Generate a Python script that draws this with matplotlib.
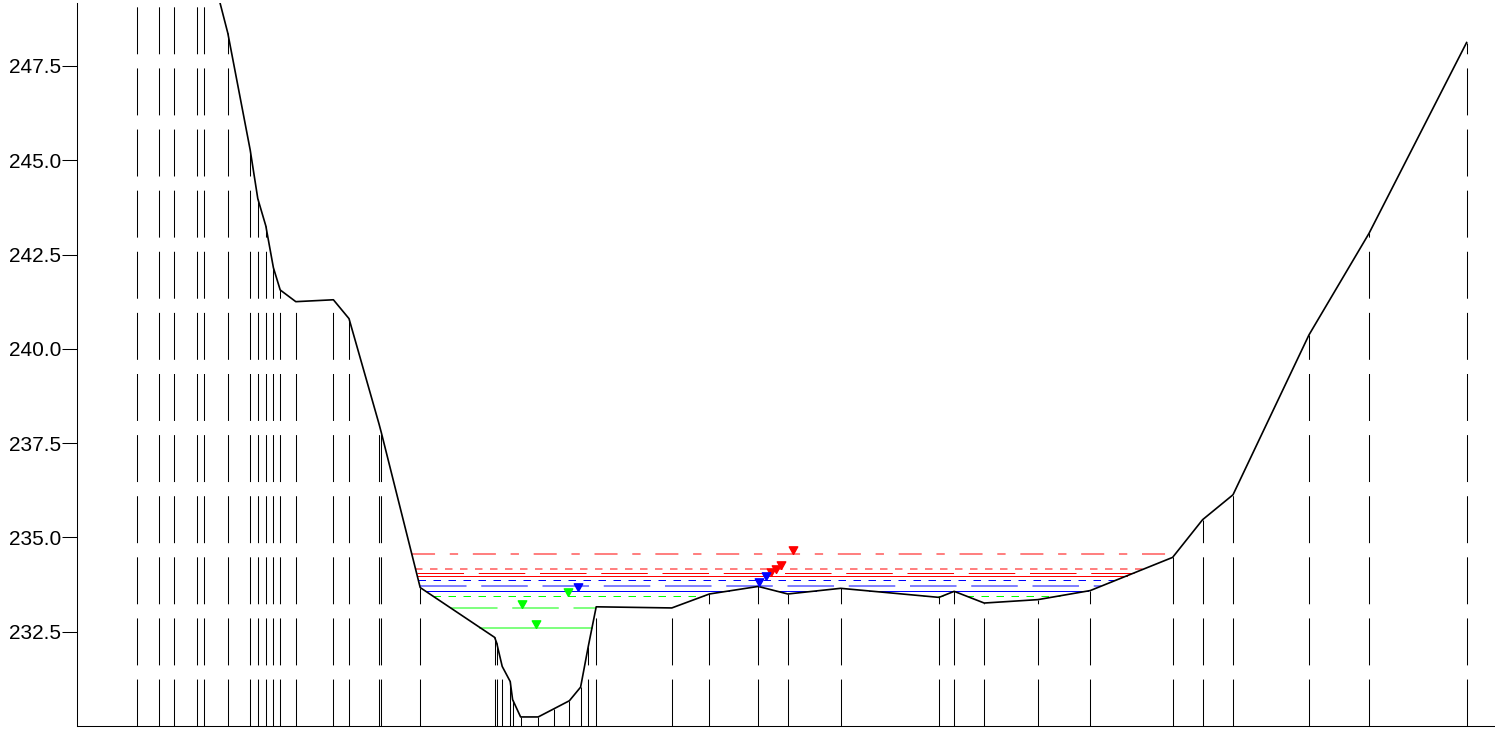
import numpy as np
import matplotlib
matplotlib.use("Agg")
import matplotlib.pyplot as plt
from matplotlib.ticker import FormatStrFormatter

plt.rcParams['font.family'] = ['Liberation Sans', 'DejaVu Sans']
plt.rcParams['lines.scale_dashes'] = False

# ground profile: station (m) and elevation (m)
stations = [15.1, 20.6, 24.3, 29.9, 31.8, 37.7, 43.3, 45.2, 47.2, 49.1,
            50.8, 54.7, 64.1, 68.0, 75.5, 76.1, 85.8, 104.4, 104.9, 106.3,
            108.3, 108.9, 110.9, 115.3, 119.3, 123.1, 125.9, 127.8, 129.8, 148.7,
            158.1, 170.3, 177.7, 190.9, 215.5, 219.3, 226.8, 240.2, 253.3, 273.9,
            281.4, 289.0, 308.0, 323.0, 347.4]
ground = [256.0, 254.5, 253.5, 251.8, 250.8, 248.37, 245.27, 243.98, 243.26, 242.15,
          241.56, 241.25, 241.30, 240.80, 238.01, 237.77, 233.67, 232.35, 232.21, 231.58,
          231.18, 230.70, 230.24, 230.24, 230.46, 230.67, 231.03, 232.10, 233.16, 233.13,
          233.50, 233.70, 233.50, 233.65, 233.41, 233.57, 233.26, 233.35, 233.59, 234.47,
          235.47, 236.13, 240.37, 243.06, 248.12]

# water surface levels and where their marker sits
levels = [234.55, 234.17, 234.06, 233.98, 233.87, 233.71, 233.58, 233.45, 233.12, 232.61]
marker_x = [179.1, 175.9, 174.8, 173.6, 172.2, 170.6, 125.2, 122.8, 111.3, 114.7]

y_ticks = [232.5, 235.0, 237.5, 240.0, 242.5, 245.0, 247.5]
y_min, y_max = 230.0, 249.16

# styles for each water level line (thin = full colour, thick = light colour)
long_dash = (0, (33.5, 10.6))
short_dash = (0, (5.4, 5.4))
dash_dot = (0, (16.6, 10.6, 6.0, 10.6))
line_styles = [dash_dot, short_dash, long_dash, '-', short_dash,
               long_dash, '-', short_dash, long_dash, '-']
line_colors = ['#ff8080', '#ff8080', '#ff0000', '#ff0000', '#0000ff',
               '#8080ff', '#0000ff', '#00ff00', '#80ff80', '#80ff80']
marker_colors = ['#ff0000'] * 4 + ['#0000ff'] * 3 + ['#00ff00'] * 3
line_widths = [1.44, 1.44, 0.72, 0.72, 0.72, 1.44, 0.72, 0.72, 1.44, 1.44]


def wet_parts(xs, zs, level):
    """x ranges where the ground lies below the water level"""
    parts = []
    start = None
    for i in range(len(xs) - 1):
        x0, x1, z0, z1 = xs[i], xs[i + 1], zs[i], zs[i + 1]
        if z0 < level and start is None:
            start = x0
        if (z0 < level) != (z1 < level):
            xc = x0 + (level - z0) / (z1 - z0) * (x1 - x0)
            if start is None:
                start = xc
            else:
                parts.append((start, xc))
                start = None
    if start is not None:
        parts.append((start, xs[-1]))
    return parts


# triangle marker with its tip at the origin
tri = [(0, 0), (-1, 1.8), (1, 1.8), (0, 0)]

fig = plt.figure(figsize=(14.95, 7.31), dpi=100)
ax = fig.add_axes([77 / 1495, 5 / 731, 1418 / 1495, 722.7 / 731])

ax.vlines(stations, y_min, ground, colors='k', linewidth=0.75,
          linestyles=[(0, (33.8, 10.2))], zorder=1)

for lev, mx, ls, c, mc, lw in zip(levels, marker_x, line_styles, line_colors,
                                   marker_colors, line_widths):
    xs, ys = [], []
    for a, b in wet_parts(stations, ground, lev):
        xs += [a, b, np.nan]
        ys += [lev, lev, np.nan]
    ax.plot(xs, ys, color=c, linestyle=ls, linewidth=lw, zorder=2)
    ax.plot([mx], [lev], marker=tri, markersize=11, color=mc,
            linestyle='none', zorder=4)

ax.plot(stations, ground, color='k', linewidth=1.2, zorder=3)

ax.set_xlim(0, 354.5)
ax.set_ylim(y_min, y_max)
ax.set_yticks(y_ticks)
ax.yaxis.set_major_formatter(FormatStrFormatter('%.1f'))
ax.set_xticks([])
ax.tick_params(axis='y', length=10.8, width=0.75, pad=0.5, labelsize=15)
ax.spines['top'].set_visible(False)
ax.spines['right'].set_visible(False)
ax.spines['left'].set_linewidth(0.75)
ax.spines['bottom'].set_linewidth(0.75)

fig.savefig('out.png', dpi=100)
